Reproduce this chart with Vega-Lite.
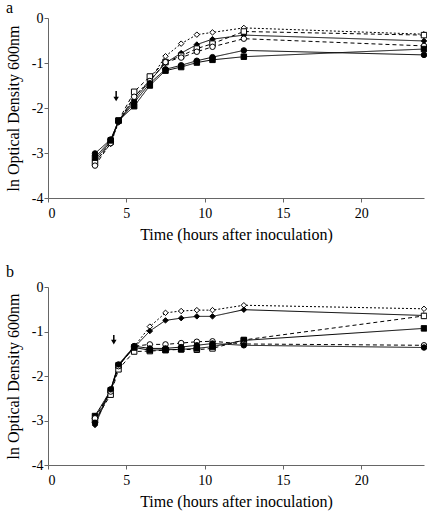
{
 "$schema": "https://vega.github.io/schema/vega-lite/v6.json",
 "padding": {"left": 5, "top": 0, "right": 4, "bottom": 2},
 "config": {
  "view": {"stroke": null},
  "font": "Liberation Serif",
  "axis": {"grid": false, "domainColor": "#666", "tickColor": "#666", "labelColor": "#000", "titleColor": "#000", "labelFont": "Liberation Serif", "titleFont": "Liberation Serif", "labelFontSize": 14, "titleFontSize": 16, "titleFontWeight": "normal", "tickSize": 4},
  "title": {"font": "Liberation Serif", "fontSize": 16, "fontWeight": "normal", "anchor": "start", "frame": "group"},
  "concat": {"spacing": 22}
 },
 "datasets": {
  "a": [
   {"s":"OD","t":3,"v":-3.2},{"s":"OD","t":4,"v":-2.8},{"s":"OD","t":4.5,"v":-2.32},{"s":"OD","t":5.5,"v":-1.75},{"s":"OD","t":6.5,"v":-1.38},{"s":"OD","t":7.5,"v":-0.85},{"s":"OD","t":8.5,"v":-0.57},{"s":"OD","t":9.5,"v":-0.37},{"s":"OD","t":10.5,"v":-0.32},{"s":"OD","t":12.5,"v":-0.22},{"s":"OD","t":24,"v":-0.36},
   {"s":"FD","t":3,"v":-3.15},{"s":"FD","t":4,"v":-2.75},{"s":"FD","t":4.5,"v":-2.3},{"s":"FD","t":5.5,"v":-1.82},{"s":"FD","t":6.5,"v":-1.4},{"s":"FD","t":7.5,"v":-1.0},{"s":"FD","t":8.5,"v":-0.78},{"s":"FD","t":9.5,"v":-0.59},{"s":"FD","t":10.5,"v":-0.47},{"s":"FD","t":12.5,"v":-0.38},{"s":"FD","t":24,"v":-0.51},
   {"s":"OS","t":3,"v":-3.22},{"s":"OS","t":4,"v":-2.75},{"s":"OS","t":4.5,"v":-2.28},{"s":"OS","t":5.5,"v":-1.64},{"s":"OS","t":6.5,"v":-1.3},{"s":"OS","t":7.5,"v":-0.98},{"s":"OS","t":8.5,"v":-0.84},{"s":"OS","t":9.5,"v":-0.68},{"s":"OS","t":10.5,"v":-0.57},{"s":"OS","t":12.5,"v":-0.3},{"s":"OS","t":24,"v":-0.38},
   {"s":"OC","t":3,"v":-3.28},{"s":"OC","t":4,"v":-2.78},{"s":"OC","t":4.5,"v":-2.3},{"s":"OC","t":5.5,"v":-1.75},{"s":"OC","t":6.5,"v":-1.4},{"s":"OC","t":7.5,"v":-0.98},{"s":"OC","t":8.5,"v":-0.88},{"s":"OC","t":9.5,"v":-0.75},{"s":"OC","t":10.5,"v":-0.64},{"s":"OC","t":12.5,"v":-0.46},{"s":"OC","t":24,"v":-0.62},
   {"s":"FC","t":3,"v":-3.01},{"s":"FC","t":4,"v":-2.7},{"s":"FC","t":4.5,"v":-2.3},{"s":"FC","t":5.5,"v":-1.88},{"s":"FC","t":6.5,"v":-1.45},{"s":"FC","t":7.5,"v":-1.14},{"s":"FC","t":8.5,"v":-1.05},{"s":"FC","t":9.5,"v":-0.95},{"s":"FC","t":10.5,"v":-0.87},{"s":"FC","t":12.5,"v":-0.72},{"s":"FC","t":24,"v":-0.82},
   {"s":"FS","t":3,"v":-3.1},{"s":"FS","t":4,"v":-2.72},{"s":"FS","t":4.5,"v":-2.28},{"s":"FS","t":5.5,"v":-1.96},{"s":"FS","t":6.5,"v":-1.5},{"s":"FS","t":7.5,"v":-1.17},{"s":"FS","t":8.5,"v":-1.09},{"s":"FS","t":9.5,"v":-0.99},{"s":"FS","t":10.5,"v":-0.93},{"s":"FS","t":12.5,"v":-0.86},{"s":"FS","t":24,"v":-0.69}
  ],
  "b": [
   {"s":"OD","t":3,"v":-2.9},{"s":"OD","t":4,"v":-2.35},{"s":"OD","t":4.5,"v":-1.78},{"s":"OD","t":5.5,"v":-1.34},{"s":"OD","t":6.5,"v":-0.89},{"s":"OD","t":7.5,"v":-0.58},{"s":"OD","t":8.5,"v":-0.54},{"s":"OD","t":9.5,"v":-0.52},{"s":"OD","t":10.5,"v":-0.52},{"s":"OD","t":12.5,"v":-0.41},{"s":"OD","t":24,"v":-0.49},
   {"s":"FD","t":3,"v":-3.1},{"s":"FD","t":4,"v":-2.32},{"s":"FD","t":4.5,"v":-1.76},{"s":"FD","t":5.5,"v":-1.36},{"s":"FD","t":6.5,"v":-0.99},{"s":"FD","t":7.5,"v":-0.75},{"s":"FD","t":8.5,"v":-0.7},{"s":"FD","t":9.5,"v":-0.66},{"s":"FD","t":10.5,"v":-0.66},{"s":"FD","t":12.5,"v":-0.51},{"s":"FD","t":24,"v":-0.64},
   {"s":"OS","t":3,"v":-3.0},{"s":"OS","t":4,"v":-2.42},{"s":"OS","t":4.5,"v":-1.85},{"s":"OS","t":5.5,"v":-1.45},{"s":"OS","t":6.5,"v":-1.44},{"s":"OS","t":7.5,"v":-1.42},{"s":"OS","t":8.5,"v":-1.4},{"s":"OS","t":9.5,"v":-1.41},{"s":"OS","t":10.5,"v":-1.38},{"s":"OS","t":12.5,"v":-1.19},{"s":"OS","t":24,"v":-0.65},
   {"s":"FS","t":3,"v":-2.9},{"s":"FS","t":4,"v":-2.32},{"s":"FS","t":4.5,"v":-1.76},{"s":"FS","t":5.5,"v":-1.36},{"s":"FS","t":6.5,"v":-1.42},{"s":"FS","t":7.5,"v":-1.41},{"s":"FS","t":8.5,"v":-1.4},{"s":"FS","t":9.5,"v":-1.38},{"s":"FS","t":10.5,"v":-1.34},{"s":"FS","t":12.5,"v":-1.2},{"s":"FS","t":24,"v":-0.93},
   {"s":"OC","t":3,"v":-2.95},{"s":"OC","t":4,"v":-2.35},{"s":"OC","t":4.5,"v":-1.78},{"s":"OC","t":5.5,"v":-1.33},{"s":"OC","t":6.5,"v":-1.29},{"s":"OC","t":7.5,"v":-1.29},{"s":"OC","t":8.5,"v":-1.26},{"s":"OC","t":9.5,"v":-1.23},{"s":"OC","t":10.5,"v":-1.22},{"s":"OC","t":12.5,"v":-1.28},{"s":"OC","t":24,"v":-1.31},
   {"s":"FC","t":3,"v":-3.05},{"s":"FC","t":4,"v":-2.3},{"s":"FC","t":4.5,"v":-1.74},{"s":"FC","t":5.5,"v":-1.33},{"s":"FC","t":6.5,"v":-1.38},{"s":"FC","t":7.5,"v":-1.38},{"s":"FC","t":8.5,"v":-1.35},{"s":"FC","t":9.5,"v":-1.31},{"s":"FC","t":10.5,"v":-1.27},{"s":"FC","t":12.5,"v":-1.31},{"s":"FC","t":24,"v":-1.36}
  ],
  "arrowA": [{"t": 4.35, "v": -1.62, "v2": -1.8}],
  "arrowB": [{"t": 4.2, "v": -1.08, "v2": -1.24}]
 },
 "vconcat": [
  {
   "title": {"text": "a", "dx": -42, "offset": -5},
   "width": 376, "height": 180,
   "encoding": {
    "x": {"field": "t", "type": "quantitative", "scale": {"domain": [0, 24], "nice": false}, "axis": {"values": [0, 5, 10, 15, 20], "title": "Time (hours after inoculation)", "labelPadding": 4, "titlePadding": 6}},
    "y": {"field": "v", "type": "quantitative", "scale": {"domain": [-4, 0], "nice": false}, "axis": {"values": [0, -1, -2, -3, -4], "labelExpr": "toString(datum.value)", "title": "ln Optical Density 600nm", "labelPadding": 1, "titlePadding": 10}}
   },
   "layer": [
    {"data": {"name": "a"}, "mark": {"type": "line", "color": "black", "strokeWidth": 1},
     "encoding": {"detail": {"field": "s"}, "strokeDash": {"field": "s", "type": "nominal", "scale": {"domain": ["OD","FD","OS","FS","OC","FC"], "range": [[2,2],[1,0],[4,3],[1,0],[4,3],[1,0]]}, "legend": null}}},
    {"data": {"name": "a"}, "mark": {"type": "point", "filled": true, "stroke": "black", "strokeWidth": 1, "size": 30, "opacity": 1},
     "encoding": {"shape": {"field": "s", "type": "nominal", "scale": {"domain": ["OD","FD","OS","FS","OC","FC"], "range": ["diamond","diamond","square","square","circle","circle"]}, "legend": null},
      "fill": {"field": "s", "type": "nominal", "scale": {"domain": ["OD","FD","OS","FS","OC","FC"], "range": ["white","black","white","black","white","black"]}, "legend": null}}},
    {"data": {"name": "arrowA"}, "mark": {"type": "rule", "color": "black", "strokeWidth": 1.5}, "encoding": {"y2": {"field": "v2"}}},
    {"data": {"name": "arrowA"}, "mark": {"type": "point", "shape": "triangle-down", "filled": true, "color": "black", "size": 30, "opacity": 1}, "encoding": {"y": {"field": "v2", "type": "quantitative"}}}
   ]
  },
  {
   "title": {"text": "b", "dx": -42, "offset": 0},
   "width": 376, "height": 178,
   "encoding": {
    "x": {"field": "t", "type": "quantitative", "scale": {"domain": [0, 24], "nice": false}, "axis": {"values": [0, 5, 10, 15, 20], "title": "Time (hours after inoculation)", "labelPadding": 4, "titlePadding": 6}},
    "y": {"field": "v", "type": "quantitative", "scale": {"domain": [-4, 0], "nice": false}, "axis": {"values": [0, -1, -2, -3, -4], "labelExpr": "toString(datum.value)", "title": "ln Optical Density 600nm", "labelPadding": 1, "titlePadding": 10}}
   },
   "layer": [
    {"data": {"name": "b"}, "mark": {"type": "line", "color": "black", "strokeWidth": 1},
     "encoding": {"detail": {"field": "s"}, "strokeDash": {"field": "s", "type": "nominal", "scale": {"domain": ["OD","FD","OS","FS","OC","FC"], "range": [[2,2],[1,0],[4,3],[1,0],[4,3],[1,0]]}, "legend": null}}},
    {"data": {"name": "b"}, "mark": {"type": "point", "filled": true, "stroke": "black", "strokeWidth": 1, "size": 30, "opacity": 1},
     "encoding": {"shape": {"field": "s", "type": "nominal", "scale": {"domain": ["OD","FD","OS","FS","OC","FC"], "range": ["diamond","diamond","square","square","circle","circle"]}, "legend": null},
      "fill": {"field": "s", "type": "nominal", "scale": {"domain": ["OD","FD","OS","FS","OC","FC"], "range": ["white","black","white","black","white","black"]}, "legend": null}}},
    {"data": {"name": "arrowB"}, "mark": {"type": "rule", "color": "black", "strokeWidth": 1.5}, "encoding": {"y2": {"field": "v2"}}},
    {"data": {"name": "arrowB"}, "mark": {"type": "point", "shape": "triangle-down", "filled": true, "color": "black", "size": 30, "opacity": 1}, "encoding": {"y": {"field": "v2", "type": "quantitative"}}}
   ]
  }
 ]
}
